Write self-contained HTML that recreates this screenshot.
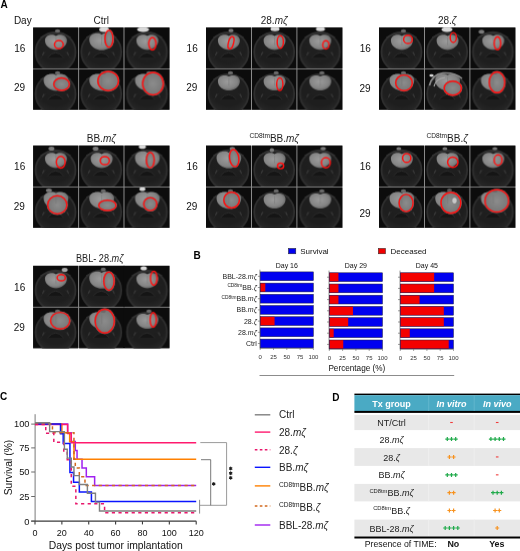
<!DOCTYPE html><html><head><meta charset="utf-8"><style>
html,body{margin:0;padding:0;background:#fff;width:520px;height:551px;overflow:hidden;}
svg text{font-family:"Liberation Sans", sans-serif;}
svg{will-change:transform;}
</style></head><body>
<svg width="520" height="551" viewBox="0 0 520 551" style="display:block">
<defs>
<radialGradient id="hd" cx="50%" cy="35%" r="62%"><stop offset="0" stop-color="#202020"/><stop offset="0.7" stop-color="#1e1e1e"/><stop offset="1" stop-color="#272727"/></radialGradient>
<radialGradient id="brA" cx="45%" cy="42%" r="62%"><stop offset="0" stop-color="#9c9c9c"/><stop offset="0.7" stop-color="#848484"/><stop offset="1" stop-color="#5e5e5e"/></radialGradient>
<radialGradient id="tm" cx="50%" cy="50%" r="55%"><stop offset="0" stop-color="#8c8c8c"/><stop offset="1" stop-color="#747474"/></radialGradient>
</defs>
<text x="0.6" y="7.8" font-size="10" font-weight="bold" fill="#000">A</text>
<text x="13.9" y="24.3" font-size="10" fill="#111">Day</text>
<rect x="33.1" y="27.5" width="136.4" height="82.4" fill="#8a8a8a"/><svg x="33.1" y="27.5" width="45" height="41" overflow="hidden"><rect width="45" height="41" fill="#0c0c0c"/><circle cx="22.5" cy="24.6" r="20" fill="url(#hd)" stroke="#2e2e2e" stroke-width="1.8"/><path d="M7.5 10 Q22.5 1.5 37.5 10" fill="none" stroke="#333" stroke-width="1.4"/><path d="M14.5 30 Q22.5 20.5 30.5 30" fill="#151515" stroke="#2c2c2c" stroke-width="1"/><path d="M12.5 24 l-5 7 M32.5 24 l5 7" stroke="#262626" stroke-width="1"/><path d="M11 24.5 l-1.6 3.2 M34 24.5 l1.6 3.2" stroke="#3a3a3a" stroke-width="1.1"/><path d="M11.9 13.04 C11.9 7.19 19.6 6.18 22.9 8.52 C26.2 6.18 33.9 7.19 33.9 13.04 C33.9 18.89 27.85 22.4 22.9 22.4 C17.95 22.4 11.9 18.89 11.9 13.04Z" fill="url(#brA)"/><line x1="22.9" y1="9.92" x2="22.9" y2="17.72" stroke="#767676" stroke-width="0.5"/><ellipse cx="24.5" cy="3.4" rx="2.6" ry="1.6" fill="#6a6a6a"/><ellipse cx="25.8" cy="17.1" rx="4.4" ry="4.1" fill="none" stroke="#ff1010" stroke-width="1.45"/></svg><svg x="79.1" y="27.5" width="44.4" height="41" overflow="hidden"><rect width="44.4" height="41" fill="#0c0c0c"/><circle cx="22.2" cy="24.6" r="20" fill="url(#hd)" stroke="#2e2e2e" stroke-width="1.8"/><path d="M7.2 10 Q22.2 1.5 37.2 10" fill="none" stroke="#333" stroke-width="1.4"/><path d="M14.2 30 Q22.2 20.5 30.2 30" fill="#151515" stroke="#2c2c2c" stroke-width="1"/><path d="M12.2 24 l-5 7 M32.2 24 l5 7" stroke="#262626" stroke-width="1"/><path d="M10.7 24.5 l-1.6 3.2 M33.7 24.5 l1.6 3.2" stroke="#3a3a3a" stroke-width="1.1"/><path d="M10.2 12.24 C10.2 5.64 18.88 4.5 22.6 7.14 C26.32 4.5 35 5.64 35 12.24 C35 18.84 28.18 22.8 22.6 22.8 C17.02 22.8 10.2 18.84 10.2 12.24Z" fill="url(#brA)"/><ellipse cx="29.9" cy="11.3" rx="5" ry="9.5" fill="url(#tm)"/><line x1="22.6" y1="8.72" x2="22.6" y2="17.52" stroke="#767676" stroke-width="0.5"/><ellipse cx="25" cy="2" rx="5" ry="2.4" fill="#d8d8d8"/><ellipse cx="29.9" cy="11.3" rx="4" ry="8.5" fill="none" stroke="#ff1010" stroke-width="1.45"/></svg><svg x="124.5" y="27.5" width="45" height="41" overflow="hidden"><rect width="45" height="41" fill="#0c0c0c"/><circle cx="22.5" cy="24.6" r="20" fill="url(#hd)" stroke="#2e2e2e" stroke-width="1.8"/><path d="M7.5 10 Q22.5 1.5 37.5 10" fill="none" stroke="#333" stroke-width="1.4"/><path d="M14.5 30 Q22.5 20.5 30.5 30" fill="#151515" stroke="#2c2c2c" stroke-width="1"/><path d="M12.5 24 l-5 7 M32.5 24 l5 7" stroke="#262626" stroke-width="1"/><path d="M11 24.5 l-1.6 3.2 M34 24.5 l1.6 3.2" stroke="#3a3a3a" stroke-width="1.1"/><path d="M11.9 13.04 C11.9 7.19 19.6 6.18 22.9 8.52 C26.2 6.18 33.9 7.19 33.9 13.04 C33.9 18.89 27.85 22.4 22.9 22.4 C17.95 22.4 11.9 18.89 11.9 13.04Z" fill="url(#brA)"/><line x1="22.9" y1="9.92" x2="22.9" y2="17.72" stroke="#767676" stroke-width="0.5"/><ellipse cx="18.6" cy="2" rx="6" ry="2.4" fill="#d8d8d8"/><ellipse cx="27.9" cy="16.3" rx="3.6" ry="6.2" fill="none" stroke="#ff1010" stroke-width="1.45"/></svg><svg x="33.1" y="69.4" width="45" height="40.5" overflow="hidden"><rect width="45" height="40.5" fill="#0c0c0c"/><circle cx="22.5" cy="24.6" r="20" fill="url(#hd)" stroke="#2e2e2e" stroke-width="1.8"/><path d="M7.5 10 Q22.5 1.5 37.5 10" fill="none" stroke="#333" stroke-width="1.4"/><path d="M14.5 30 Q22.5 20.5 30.5 30" fill="#151515" stroke="#2c2c2c" stroke-width="1"/><path d="M12.5 24 l-5 7 M32.5 24 l5 7" stroke="#262626" stroke-width="1"/><path d="M11 24.5 l-1.6 3.2 M34 24.5 l1.6 3.2" stroke="#3a3a3a" stroke-width="1.1"/><path d="M10.5 10.84 C10.5 4.24 19.18 3.1 22.9 5.74 C26.62 3.1 35.3 4.24 35.3 10.84 C35.3 17.44 28.48 21.4 22.9 21.4 C17.32 21.4 10.5 17.44 10.5 10.84Z" fill="url(#brA)"/><ellipse cx="28.5" cy="14.7" rx="8.8" ry="7.2" fill="url(#tm)"/><line x1="22.9" y1="7.32" x2="22.9" y2="16.12" stroke="#767676" stroke-width="0.5"/><ellipse cx="24.5" cy="3.4" rx="2.6" ry="1.6" fill="#6a6a6a"/><ellipse cx="28.5" cy="14.7" rx="7.8" ry="6.2" fill="none" stroke="#ff1010" stroke-width="1.45"/></svg><svg x="79.1" y="69.4" width="44.4" height="40.5" overflow="hidden"><rect width="44.4" height="40.5" fill="#0c0c0c"/><circle cx="22.2" cy="24.6" r="20" fill="url(#hd)" stroke="#2e2e2e" stroke-width="1.8"/><path d="M7.2 10 Q22.2 1.5 37.2 10" fill="none" stroke="#333" stroke-width="1.4"/><path d="M14.2 30 Q22.2 20.5 30.2 30" fill="#151515" stroke="#2c2c2c" stroke-width="1"/><path d="M12.2 24 l-5 7 M32.2 24 l5 7" stroke="#262626" stroke-width="1"/><path d="M10.7 24.5 l-1.6 3.2 M33.7 24.5 l1.6 3.2" stroke="#3a3a3a" stroke-width="1.1"/><path d="M10.2 10.84 C10.2 4.24 18.88 3.1 22.6 5.74 C26.32 3.1 35 4.24 35 10.84 C35 17.44 28.18 21.4 22.6 21.4 C17.02 21.4 10.2 17.44 10.2 10.84Z" fill="url(#brA)"/><ellipse cx="29.1" cy="11.6" rx="11.3" ry="10.6" fill="url(#tm)"/><line x1="22.6" y1="7.32" x2="22.6" y2="16.12" stroke="#767676" stroke-width="0.5"/><ellipse cx="24.2" cy="3.4" rx="2.6" ry="1.6" fill="#6a6a6a"/><ellipse cx="29.1" cy="11.6" rx="10.3" ry="9.6" fill="none" stroke="#ff1010" stroke-width="1.45"/></svg><svg x="124.5" y="69.4" width="45" height="40.5" overflow="hidden"><rect width="45" height="40.5" fill="#0c0c0c"/><circle cx="22.5" cy="24.6" r="20" fill="url(#hd)" stroke="#2e2e2e" stroke-width="1.8"/><path d="M7.5 10 Q22.5 1.5 37.5 10" fill="none" stroke="#333" stroke-width="1.4"/><path d="M14.5 30 Q22.5 20.5 30.5 30" fill="#151515" stroke="#2c2c2c" stroke-width="1"/><path d="M12.5 24 l-5 7 M32.5 24 l5 7" stroke="#262626" stroke-width="1"/><path d="M11 24.5 l-1.6 3.2 M34 24.5 l1.6 3.2" stroke="#3a3a3a" stroke-width="1.1"/><path d="M10.5 10.84 C10.5 4.24 19.18 3.1 22.9 5.74 C26.62 3.1 35.3 4.24 35.3 10.84 C35.3 17.44 28.48 21.4 22.9 21.4 C17.32 21.4 10.5 17.44 10.5 10.84Z" fill="url(#brA)"/><ellipse cx="28.5" cy="14.2" rx="11.3" ry="12.2" fill="url(#tm)"/><line x1="22.9" y1="7.32" x2="22.9" y2="16.12" stroke="#767676" stroke-width="0.5"/><ellipse cx="24.5" cy="3.4" rx="2.6" ry="1.6" fill="#6a6a6a"/><ellipse cx="28.5" cy="14.2" rx="10.3" ry="11.2" fill="none" stroke="#ff1010" stroke-width="1.45"/></svg>
<text x="101.3" y="23.6" font-size="10" text-anchor="middle" fill="#222" ><tspan>Ctrl</tspan></text>
<text x="14.3" y="51.8" font-size="10" fill="#111">16</text>
<text x="13.9" y="91.4" font-size="10" fill="#111">29</text>
<rect x="206" y="27.5" width="136.4" height="82.4" fill="#8a8a8a"/><svg x="206" y="27.5" width="45" height="41" overflow="hidden"><rect width="45" height="41" fill="#0c0c0c"/><circle cx="22.5" cy="24.6" r="20" fill="url(#hd)" stroke="#2e2e2e" stroke-width="1.8"/><path d="M7.5 10 Q22.5 1.5 37.5 10" fill="none" stroke="#333" stroke-width="1.4"/><path d="M14.5 30 Q22.5 20.5 30.5 30" fill="#151515" stroke="#2c2c2c" stroke-width="1"/><path d="M12.5 24 l-5 7 M32.5 24 l5 7" stroke="#262626" stroke-width="1"/><path d="M11 24.5 l-1.6 3.2 M34 24.5 l1.6 3.2" stroke="#3a3a3a" stroke-width="1.1"/><path d="M11.9 13.04 C11.9 7.19 19.6 6.18 22.9 8.52 C26.2 6.18 33.9 7.19 33.9 13.04 C33.9 18.89 27.85 22.4 22.9 22.4 C17.95 22.4 11.9 18.89 11.9 13.04Z" fill="url(#brA)"/><line x1="22.9" y1="9.92" x2="22.9" y2="17.72" stroke="#767676" stroke-width="0.5"/><ellipse cx="25" cy="3" rx="2.6" ry="1.8" fill="#7a7a7a"/><ellipse cx="25" cy="15.3" rx="2.6" ry="6.2" fill="none" stroke="#ff1010" stroke-width="1.45" transform="rotate(15 25 15.3)"/></svg><svg x="252" y="27.5" width="44.4" height="41" overflow="hidden"><rect width="44.4" height="41" fill="#0c0c0c"/><circle cx="22.2" cy="24.6" r="20" fill="url(#hd)" stroke="#2e2e2e" stroke-width="1.8"/><path d="M7.2 10 Q22.2 1.5 37.2 10" fill="none" stroke="#333" stroke-width="1.4"/><path d="M14.2 30 Q22.2 20.5 30.2 30" fill="#151515" stroke="#2c2c2c" stroke-width="1"/><path d="M12.2 24 l-5 7 M32.2 24 l5 7" stroke="#262626" stroke-width="1"/><path d="M10.7 24.5 l-1.6 3.2 M33.7 24.5 l1.6 3.2" stroke="#3a3a3a" stroke-width="1.1"/><path d="M11.6 13.04 C11.6 7.19 19.3 6.18 22.6 8.52 C25.9 6.18 33.6 7.19 33.6 13.04 C33.6 18.89 27.55 22.4 22.6 22.4 C17.65 22.4 11.6 18.89 11.6 13.04Z" fill="url(#brA)"/><line x1="22.6" y1="9.92" x2="22.6" y2="17.72" stroke="#767676" stroke-width="0.5"/><ellipse cx="23" cy="1.6" rx="4.5" ry="2.2" fill="#d8d8d8"/><ellipse cx="28.3" cy="14.5" rx="3.1" ry="6.2" fill="none" stroke="#ff1010" stroke-width="1.45"/></svg><svg x="297.4" y="27.5" width="45" height="41" overflow="hidden"><rect width="45" height="41" fill="#0c0c0c"/><circle cx="22.5" cy="24.6" r="20" fill="url(#hd)" stroke="#2e2e2e" stroke-width="1.8"/><path d="M7.5 10 Q22.5 1.5 37.5 10" fill="none" stroke="#333" stroke-width="1.4"/><path d="M14.5 30 Q22.5 20.5 30.5 30" fill="#151515" stroke="#2c2c2c" stroke-width="1"/><path d="M12.5 24 l-5 7 M32.5 24 l5 7" stroke="#262626" stroke-width="1"/><path d="M11 24.5 l-1.6 3.2 M34 24.5 l1.6 3.2" stroke="#3a3a3a" stroke-width="1.1"/><path d="M11.9 13.04 C11.9 7.19 19.6 6.18 22.9 8.52 C26.2 6.18 33.9 7.19 33.9 13.04 C33.9 18.89 27.85 22.4 22.9 22.4 C17.95 22.4 11.9 18.89 11.9 13.04Z" fill="url(#brA)"/><line x1="22.9" y1="9.92" x2="22.9" y2="17.72" stroke="#767676" stroke-width="0.5"/><ellipse cx="23.1" cy="1.6" rx="4.5" ry="2.2" fill="#d8d8d8"/><ellipse cx="28.5" cy="17.4" rx="3.1" ry="4.1" fill="none" stroke="#ff1010" stroke-width="1.45"/></svg><svg x="206" y="69.4" width="45" height="40.5" overflow="hidden"><rect width="45" height="40.5" fill="#0c0c0c"/><circle cx="22.5" cy="24.6" r="20" fill="url(#hd)" stroke="#2e2e2e" stroke-width="1.8"/><path d="M7.5 10 Q22.5 1.5 37.5 10" fill="none" stroke="#333" stroke-width="1.4"/><path d="M14.5 30 Q22.5 20.5 30.5 30" fill="#151515" stroke="#2c2c2c" stroke-width="1"/><path d="M12.5 24 l-5 7 M32.5 24 l5 7" stroke="#262626" stroke-width="1"/><path d="M11 24.5 l-1.6 3.2 M34 24.5 l1.6 3.2" stroke="#3a3a3a" stroke-width="1.1"/><path d="M11.9 11.64 C11.9 5.79 19.6 4.78 22.9 7.12 C26.2 4.78 33.9 5.79 33.9 11.64 C33.9 17.49 27.85 21 22.9 21 C17.95 21 11.9 17.49 11.9 11.64Z" fill="url(#brA)"/><line x1="22.9" y1="8.52" x2="22.9" y2="16.32" stroke="#767676" stroke-width="0.5"/><ellipse cx="24.5" cy="3.4" rx="2.6" ry="1.6" fill="#6a6a6a"/></svg><svg x="252" y="69.4" width="44.4" height="40.5" overflow="hidden"><rect width="44.4" height="40.5" fill="#0c0c0c"/><circle cx="22.2" cy="24.6" r="20" fill="url(#hd)" stroke="#2e2e2e" stroke-width="1.8"/><path d="M7.2 10 Q22.2 1.5 37.2 10" fill="none" stroke="#333" stroke-width="1.4"/><path d="M14.2 30 Q22.2 20.5 30.2 30" fill="#151515" stroke="#2c2c2c" stroke-width="1"/><path d="M12.2 24 l-5 7 M32.2 24 l5 7" stroke="#262626" stroke-width="1"/><path d="M10.7 24.5 l-1.6 3.2 M33.7 24.5 l1.6 3.2" stroke="#3a3a3a" stroke-width="1.1"/><path d="M11.6 11.64 C11.6 5.79 19.3 4.78 22.6 7.12 C25.9 4.78 33.6 5.79 33.6 11.64 C33.6 17.49 27.55 21 22.6 21 C17.65 21 11.6 17.49 11.6 11.64Z" fill="url(#brA)"/><line x1="22.6" y1="8.52" x2="22.6" y2="16.32" stroke="#767676" stroke-width="0.5"/><ellipse cx="24.2" cy="3.4" rx="2.6" ry="1.6" fill="#6a6a6a"/><ellipse cx="27.8" cy="14.7" rx="3.1" ry="6.2" fill="none" stroke="#ff1010" stroke-width="1.45"/></svg><svg x="297.4" y="69.4" width="45" height="40.5" overflow="hidden"><rect width="45" height="40.5" fill="#0c0c0c"/><circle cx="22.5" cy="24.6" r="20" fill="url(#hd)" stroke="#2e2e2e" stroke-width="1.8"/><path d="M7.5 10 Q22.5 1.5 37.5 10" fill="none" stroke="#333" stroke-width="1.4"/><path d="M14.5 30 Q22.5 20.5 30.5 30" fill="#151515" stroke="#2c2c2c" stroke-width="1"/><path d="M12.5 24 l-5 7 M32.5 24 l5 7" stroke="#262626" stroke-width="1"/><path d="M11 24.5 l-1.6 3.2 M34 24.5 l1.6 3.2" stroke="#3a3a3a" stroke-width="1.1"/><path d="M11.9 11.64 C11.9 5.79 19.6 4.78 22.9 7.12 C26.2 4.78 33.9 5.79 33.9 11.64 C33.9 17.49 27.85 21 22.9 21 C17.95 21 11.9 17.49 11.9 11.64Z" fill="url(#brA)"/><line x1="22.9" y1="8.52" x2="22.9" y2="16.32" stroke="#767676" stroke-width="0.5"/><ellipse cx="24.5" cy="3.4" rx="2.6" ry="1.6" fill="#6a6a6a"/></svg>
<text x="274.2" y="23.6" font-size="10" text-anchor="middle" fill="#222" ><tspan>28.</tspan><tspan font-style="italic">mζ</tspan></text>
<text x="186.6" y="51.8" font-size="10" fill="#111">16</text>
<text x="186.2" y="91.2" font-size="10" fill="#111">29</text>
<rect x="379" y="27.5" width="136.4" height="82.4" fill="#8a8a8a"/><svg x="379" y="27.5" width="45" height="41" overflow="hidden"><rect width="45" height="41" fill="#0c0c0c"/><circle cx="22.5" cy="24.6" r="20" fill="url(#hd)" stroke="#2e2e2e" stroke-width="1.8"/><path d="M7.5 10 Q22.5 1.5 37.5 10" fill="none" stroke="#333" stroke-width="1.4"/><path d="M14.5 30 Q22.5 20.5 30.5 30" fill="#151515" stroke="#2c2c2c" stroke-width="1"/><path d="M12.5 24 l-5 7 M32.5 24 l5 7" stroke="#262626" stroke-width="1"/><path d="M11 24.5 l-1.6 3.2 M34 24.5 l1.6 3.2" stroke="#3a3a3a" stroke-width="1.1"/><path d="M11.9 13.04 C11.9 7.19 19.6 6.18 22.9 8.52 C26.2 6.18 33.9 7.19 33.9 13.04 C33.9 18.89 27.85 22.4 22.9 22.4 C17.95 22.4 11.9 18.89 11.9 13.04Z" fill="url(#brA)"/><line x1="22.9" y1="9.92" x2="22.9" y2="17.72" stroke="#767676" stroke-width="0.5"/><ellipse cx="24.5" cy="3.4" rx="2.6" ry="1.6" fill="#6a6a6a"/><ellipse cx="29" cy="11.9" rx="4.4" ry="4.1" fill="none" stroke="#ff1010" stroke-width="1.45"/></svg><svg x="425" y="27.5" width="44.4" height="41" overflow="hidden"><rect width="44.4" height="41" fill="#0c0c0c"/><circle cx="22.2" cy="24.6" r="20" fill="url(#hd)" stroke="#2e2e2e" stroke-width="1.8"/><path d="M7.2 10 Q22.2 1.5 37.2 10" fill="none" stroke="#333" stroke-width="1.4"/><path d="M14.2 30 Q22.2 20.5 30.2 30" fill="#151515" stroke="#2c2c2c" stroke-width="1"/><path d="M12.2 24 l-5 7 M32.2 24 l5 7" stroke="#262626" stroke-width="1"/><path d="M10.7 24.5 l-1.6 3.2 M33.7 24.5 l1.6 3.2" stroke="#3a3a3a" stroke-width="1.1"/><path d="M11.6 13.04 C11.6 7.19 19.3 6.18 22.6 8.52 C25.9 6.18 33.6 7.19 33.6 13.04 C33.6 18.89 27.55 22.4 22.6 22.4 C17.65 22.4 11.6 18.89 11.6 13.04Z" fill="url(#brA)"/><line x1="22.6" y1="9.92" x2="22.6" y2="17.72" stroke="#767676" stroke-width="0.5"/><ellipse cx="22" cy="2" rx="5.5" ry="2.4" fill="#d8d8d8"/><ellipse cx="28.3" cy="10" rx="3.1" ry="4.9" fill="none" stroke="#ff1010" stroke-width="1.45"/></svg><svg x="470.4" y="27.5" width="45" height="41" overflow="hidden"><rect width="45" height="41" fill="#0c0c0c"/><circle cx="22.5" cy="24.6" r="20" fill="url(#hd)" stroke="#2e2e2e" stroke-width="1.8"/><path d="M7.5 10 Q22.5 1.5 37.5 10" fill="none" stroke="#333" stroke-width="1.4"/><path d="M14.5 30 Q22.5 20.5 30.5 30" fill="#151515" stroke="#2c2c2c" stroke-width="1"/><path d="M12.5 24 l-5 7 M32.5 24 l5 7" stroke="#262626" stroke-width="1"/><path d="M11 24.5 l-1.6 3.2 M34 24.5 l1.6 3.2" stroke="#3a3a3a" stroke-width="1.1"/><path d="M11.9 13.04 C11.9 7.19 19.6 6.18 22.9 8.52 C26.2 6.18 33.9 7.19 33.9 13.04 C33.9 18.89 27.85 22.4 22.9 22.4 C17.95 22.4 11.9 18.89 11.9 13.04Z" fill="url(#brA)"/><line x1="22.9" y1="9.92" x2="22.9" y2="17.72" stroke="#767676" stroke-width="0.5"/><ellipse cx="11.1" cy="4.2" rx="2.8" ry="2" fill="#7a7a7a"/><ellipse cx="27.1" cy="15.8" rx="3.3" ry="6.5" fill="none" stroke="#ff1010" stroke-width="1.45"/></svg><svg x="379" y="69.4" width="45" height="40.5" overflow="hidden"><rect width="45" height="40.5" fill="#0c0c0c"/><circle cx="22.5" cy="24.6" r="20" fill="url(#hd)" stroke="#2e2e2e" stroke-width="1.8"/><path d="M7.5 10 Q22.5 1.5 37.5 10" fill="none" stroke="#333" stroke-width="1.4"/><path d="M14.5 30 Q22.5 20.5 30.5 30" fill="#151515" stroke="#2c2c2c" stroke-width="1"/><path d="M12.5 24 l-5 7 M32.5 24 l5 7" stroke="#262626" stroke-width="1"/><path d="M11 24.5 l-1.6 3.2 M34 24.5 l1.6 3.2" stroke="#3a3a3a" stroke-width="1.1"/><path d="M10.5 10.84 C10.5 4.24 19.18 3.1 22.9 5.74 C26.62 3.1 35.3 4.24 35.3 10.84 C35.3 17.44 28.48 21.4 22.9 21.4 C17.32 21.4 10.5 17.44 10.5 10.84Z" fill="url(#brA)"/><ellipse cx="25" cy="13.4" rx="9.3" ry="8.8" fill="url(#tm)"/><line x1="22.9" y1="7.32" x2="22.9" y2="16.12" stroke="#767676" stroke-width="0.5"/><ellipse cx="24.5" cy="3.4" rx="2.6" ry="1.6" fill="#6a6a6a"/><ellipse cx="25" cy="13.4" rx="8.3" ry="7.8" fill="none" stroke="#ff1010" stroke-width="1.45"/></svg><svg x="425" y="69.4" width="44.4" height="40.5" overflow="hidden"><rect width="44.4" height="40.5" fill="#0c0c0c"/><circle cx="22.2" cy="24.6" r="20" fill="url(#hd)" stroke="#2e2e2e" stroke-width="1.8"/><path d="M7.2 10 Q22.2 1.5 37.2 10" fill="none" stroke="#333" stroke-width="1.4"/><path d="M14.2 30 Q22.2 20.5 30.2 30" fill="#151515" stroke="#2c2c2c" stroke-width="1"/><path d="M12.2 24 l-5 7 M32.2 24 l5 7" stroke="#262626" stroke-width="1"/><path d="M10.7 24.5 l-1.6 3.2 M33.7 24.5 l1.6 3.2" stroke="#3a3a3a" stroke-width="1.1"/><path d="M10.2 10.84 C10.2 4.24 18.88 3.1 22.6 5.74 C26.32 3.1 35 4.24 35 10.84 C35 17.44 28.18 21.4 22.6 21.4 C17.02 21.4 10.2 17.44 10.2 10.84Z" fill="url(#brA)"/><ellipse cx="27.8" cy="18.7" rx="9.6" ry="8" fill="url(#tm)"/><line x1="22.6" y1="7.32" x2="22.6" y2="16.12" stroke="#767676" stroke-width="0.5"/><ellipse cx="6.5" cy="6.1" rx="2.2" ry="1.4" fill="#d8d8d8"/><path d="M4.5 16 Q7 5 18 3.6 Q30 2.8 37 9" fill="none" stroke="#8a8a8a" stroke-width="1.6"/><path d="M9 17 Q11 9 20 8" fill="none" stroke="#aaa" stroke-width="1.2"/><ellipse cx="27.8" cy="18.7" rx="8.6" ry="7" fill="none" stroke="#ff1010" stroke-width="1.45"/></svg><svg x="470.4" y="69.4" width="45" height="40.5" overflow="hidden"><rect width="45" height="40.5" fill="#0c0c0c"/><circle cx="22.5" cy="24.6" r="20" fill="url(#hd)" stroke="#2e2e2e" stroke-width="1.8"/><path d="M7.5 10 Q22.5 1.5 37.5 10" fill="none" stroke="#333" stroke-width="1.4"/><path d="M14.5 30 Q22.5 20.5 30.5 30" fill="#151515" stroke="#2c2c2c" stroke-width="1"/><path d="M12.5 24 l-5 7 M32.5 24 l5 7" stroke="#262626" stroke-width="1"/><path d="M11 24.5 l-1.6 3.2 M34 24.5 l1.6 3.2" stroke="#3a3a3a" stroke-width="1.1"/><path d="M10.5 10.84 C10.5 4.24 19.18 3.1 22.9 5.74 C26.62 3.1 35.3 4.24 35.3 10.84 C35.3 17.44 28.48 21.4 22.9 21.4 C17.32 21.4 10.5 17.44 10.5 10.84Z" fill="url(#brA)"/><ellipse cx="26.6" cy="12.9" rx="8.8" ry="11.4" fill="url(#tm)"/><line x1="22.9" y1="7.32" x2="22.9" y2="16.12" stroke="#767676" stroke-width="0.5"/><ellipse cx="24.5" cy="3.4" rx="2.6" ry="1.6" fill="#6a6a6a"/><ellipse cx="26.6" cy="12.9" rx="7.8" ry="10.4" fill="none" stroke="#ff1010" stroke-width="1.45"/></svg>
<text x="447.2" y="23.6" font-size="10" text-anchor="middle" fill="#222" ><tspan>28.</tspan><tspan font-style="italic">ζ</tspan></text>
<text x="359.8" y="51.8" font-size="10" fill="#111">16</text>
<text x="359.4" y="91.8" font-size="10" fill="#111">29</text>
<rect x="33.1" y="145.6" width="136.4" height="82.4" fill="#8a8a8a"/><svg x="33.1" y="145.6" width="45" height="41" overflow="hidden"><rect width="45" height="41" fill="#0c0c0c"/><circle cx="22.5" cy="24.6" r="20" fill="url(#hd)" stroke="#2e2e2e" stroke-width="1.8"/><path d="M7.5 10 Q22.5 1.5 37.5 10" fill="none" stroke="#333" stroke-width="1.4"/><path d="M14.5 30 Q22.5 20.5 30.5 30" fill="#151515" stroke="#2c2c2c" stroke-width="1"/><path d="M12.5 24 l-5 7 M32.5 24 l5 7" stroke="#262626" stroke-width="1"/><path d="M11 24.5 l-1.6 3.2 M34 24.5 l1.6 3.2" stroke="#3a3a3a" stroke-width="1.1"/><path d="M11.9 13.04 C11.9 7.19 19.6 6.18 22.9 8.52 C26.2 6.18 33.9 7.19 33.9 13.04 C33.9 18.89 27.85 22.4 22.9 22.4 C17.95 22.4 11.9 18.89 11.9 13.04Z" fill="url(#brA)"/><line x1="22.9" y1="9.92" x2="22.9" y2="17.72" stroke="#767676" stroke-width="0.5"/><ellipse cx="18.4" cy="3" rx="3" ry="2" fill="#7a7a7a"/><ellipse cx="27.7" cy="16.6" rx="4.4" ry="5.9" fill="none" stroke="#ff1010" stroke-width="1.45"/></svg><svg x="79.1" y="145.6" width="44.4" height="41" overflow="hidden"><rect width="44.4" height="41" fill="#0c0c0c"/><circle cx="22.2" cy="24.6" r="20" fill="url(#hd)" stroke="#2e2e2e" stroke-width="1.8"/><path d="M7.2 10 Q22.2 1.5 37.2 10" fill="none" stroke="#333" stroke-width="1.4"/><path d="M14.2 30 Q22.2 20.5 30.2 30" fill="#151515" stroke="#2c2c2c" stroke-width="1"/><path d="M12.2 24 l-5 7 M32.2 24 l5 7" stroke="#262626" stroke-width="1"/><path d="M10.7 24.5 l-1.6 3.2 M33.7 24.5 l1.6 3.2" stroke="#3a3a3a" stroke-width="1.1"/><path d="M11.6 13.04 C11.6 7.19 19.3 6.18 22.6 8.52 C25.9 6.18 33.6 7.19 33.6 13.04 C33.6 18.89 27.55 22.4 22.6 22.4 C17.65 22.4 11.6 18.89 11.6 13.04Z" fill="url(#brA)"/><line x1="22.6" y1="9.92" x2="22.6" y2="17.72" stroke="#767676" stroke-width="0.5"/><ellipse cx="16.5" cy="3" rx="3" ry="2" fill="#7a7a7a"/><ellipse cx="25.7" cy="15" rx="4.6" ry="4.1" fill="none" stroke="#ff1010" stroke-width="1.45"/></svg><svg x="124.5" y="145.6" width="45" height="41" overflow="hidden"><rect width="45" height="41" fill="#0c0c0c"/><circle cx="22.5" cy="24.6" r="20" fill="url(#hd)" stroke="#2e2e2e" stroke-width="1.8"/><path d="M7.5 10 Q22.5 1.5 37.5 10" fill="none" stroke="#333" stroke-width="1.4"/><path d="M14.5 30 Q22.5 20.5 30.5 30" fill="#151515" stroke="#2c2c2c" stroke-width="1"/><path d="M12.5 24 l-5 7 M32.5 24 l5 7" stroke="#262626" stroke-width="1"/><path d="M11 24.5 l-1.6 3.2 M34 24.5 l1.6 3.2" stroke="#3a3a3a" stroke-width="1.1"/><path d="M10.5 12.24 C10.5 5.64 19.18 4.5 22.9 7.14 C26.62 4.5 35.3 5.64 35.3 12.24 C35.3 18.84 28.48 22.8 22.9 22.8 C17.32 22.8 10.5 18.84 10.5 12.24Z" fill="url(#brA)"/><ellipse cx="25.8" cy="14.5" rx="4.9" ry="8.8" fill="url(#tm)"/><line x1="22.9" y1="8.72" x2="22.9" y2="17.52" stroke="#767676" stroke-width="0.5"/><ellipse cx="17.9" cy="1.2" rx="3.5" ry="2" fill="#d8d8d8"/><ellipse cx="25.8" cy="14.5" rx="3.9" ry="7.8" fill="none" stroke="#ff1010" stroke-width="1.45"/></svg><svg x="33.1" y="187.5" width="45" height="40.5" overflow="hidden"><rect width="45" height="40.5" fill="#0c0c0c"/><circle cx="22.5" cy="24.6" r="20" fill="url(#hd)" stroke="#2e2e2e" stroke-width="1.8"/><path d="M7.5 10 Q22.5 1.5 37.5 10" fill="none" stroke="#333" stroke-width="1.4"/><path d="M14.5 30 Q22.5 20.5 30.5 30" fill="#151515" stroke="#2c2c2c" stroke-width="1"/><path d="M12.5 24 l-5 7 M32.5 24 l5 7" stroke="#262626" stroke-width="1"/><path d="M11 24.5 l-1.6 3.2 M34 24.5 l1.6 3.2" stroke="#3a3a3a" stroke-width="1.1"/><path d="M10.5 10.84 C10.5 4.24 19.18 3.1 22.9 5.74 C26.62 3.1 35.3 4.24 35.3 10.84 C35.3 17.44 28.48 21.4 22.9 21.4 C17.32 21.4 10.5 17.44 10.5 10.84Z" fill="url(#brA)"/><ellipse cx="24.2" cy="17.4" rx="10.6" ry="10.1" fill="url(#tm)"/><line x1="22.9" y1="7.32" x2="22.9" y2="16.12" stroke="#767676" stroke-width="0.5"/><ellipse cx="15.8" cy="2.9" rx="3" ry="1.8" fill="#7a7a7a"/><ellipse cx="24.2" cy="17.4" rx="9.6" ry="9.1" fill="none" stroke="#ff1010" stroke-width="1.45"/></svg><svg x="79.1" y="187.5" width="44.4" height="40.5" overflow="hidden"><rect width="44.4" height="40.5" fill="#0c0c0c"/><circle cx="22.2" cy="24.6" r="20" fill="url(#hd)" stroke="#2e2e2e" stroke-width="1.8"/><path d="M7.2 10 Q22.2 1.5 37.2 10" fill="none" stroke="#333" stroke-width="1.4"/><path d="M14.2 30 Q22.2 20.5 30.2 30" fill="#151515" stroke="#2c2c2c" stroke-width="1"/><path d="M12.2 24 l-5 7 M32.2 24 l5 7" stroke="#262626" stroke-width="1"/><path d="M10.7 24.5 l-1.6 3.2 M33.7 24.5 l1.6 3.2" stroke="#3a3a3a" stroke-width="1.1"/><path d="M10.2 10.84 C10.2 4.24 18.88 3.1 22.6 5.74 C26.32 3.1 35 4.24 35 10.84 C35 17.44 28.18 21.4 22.6 21.4 C17.02 21.4 10.2 17.44 10.2 10.84Z" fill="url(#brA)"/><ellipse cx="28.3" cy="17.9" rx="9.6" ry="6.2" fill="url(#tm)"/><line x1="22.6" y1="7.32" x2="22.6" y2="16.12" stroke="#767676" stroke-width="0.5"/><ellipse cx="24.2" cy="3.4" rx="2.6" ry="1.6" fill="#6a6a6a"/><ellipse cx="28.3" cy="17.9" rx="8.6" ry="5.2" fill="none" stroke="#ff1010" stroke-width="1.45"/></svg><svg x="124.5" y="187.5" width="45" height="40.5" overflow="hidden"><rect width="45" height="40.5" fill="#0c0c0c"/><circle cx="22.5" cy="24.6" r="20" fill="url(#hd)" stroke="#2e2e2e" stroke-width="1.8"/><path d="M7.5 10 Q22.5 1.5 37.5 10" fill="none" stroke="#333" stroke-width="1.4"/><path d="M14.5 30 Q22.5 20.5 30.5 30" fill="#151515" stroke="#2c2c2c" stroke-width="1"/><path d="M12.5 24 l-5 7 M32.5 24 l5 7" stroke="#262626" stroke-width="1"/><path d="M11 24.5 l-1.6 3.2 M34 24.5 l1.6 3.2" stroke="#3a3a3a" stroke-width="1.1"/><path d="M10.5 10.84 C10.5 4.24 19.18 3.1 22.9 5.74 C26.62 3.1 35.3 4.24 35.3 10.84 C35.3 17.44 28.48 21.4 22.9 21.4 C17.32 21.4 10.5 17.44 10.5 10.84Z" fill="url(#brA)"/><ellipse cx="25.8" cy="16.6" rx="7.5" ry="7.5" fill="url(#tm)"/><line x1="22.9" y1="7.32" x2="22.9" y2="16.12" stroke="#767676" stroke-width="0.5"/><ellipse cx="17.9" cy="1.6" rx="3" ry="2" fill="#d8d8d8"/><ellipse cx="25.8" cy="16.6" rx="6.5" ry="6.5" fill="none" stroke="#ff1010" stroke-width="1.45"/></svg>
<text x="101.3" y="141.5" font-size="10" text-anchor="middle" fill="#222" ><tspan>BB.</tspan><tspan font-style="italic">mζ</tspan></text>
<text x="14.1" y="170.3" font-size="10" fill="#111">16</text>
<text x="13.7" y="210.4" font-size="10" fill="#111">29</text>
<rect x="206" y="145.6" width="136.4" height="82.4" fill="#8a8a8a"/><svg x="206" y="145.6" width="45" height="41" overflow="hidden"><rect width="45" height="41" fill="#0c0c0c"/><circle cx="22.5" cy="24.6" r="20" fill="url(#hd)" stroke="#2e2e2e" stroke-width="1.8"/><path d="M7.5 10 Q22.5 1.5 37.5 10" fill="none" stroke="#333" stroke-width="1.4"/><path d="M14.5 30 Q22.5 20.5 30.5 30" fill="#151515" stroke="#2c2c2c" stroke-width="1"/><path d="M12.5 24 l-5 7 M32.5 24 l5 7" stroke="#262626" stroke-width="1"/><path d="M11 24.5 l-1.6 3.2 M34 24.5 l1.6 3.2" stroke="#3a3a3a" stroke-width="1.1"/><path d="M10.5 12.24 C10.5 5.64 19.18 4.5 22.9 7.14 C26.62 4.5 35.3 5.64 35.3 12.24 C35.3 18.84 28.48 22.8 22.9 22.8 C17.32 22.8 10.5 18.84 10.5 12.24Z" fill="url(#brA)"/><ellipse cx="28.2" cy="12.6" rx="5.6" ry="9.6" fill="url(#tm)" transform="rotate(-8 28.2 12.6)"/><line x1="22.9" y1="8.72" x2="22.9" y2="17.52" stroke="#767676" stroke-width="0.5"/><ellipse cx="26.3" cy="3" rx="2.8" ry="1.8" fill="#7a7a7a"/><ellipse cx="28.2" cy="12.6" rx="4.6" ry="8.6" fill="none" stroke="#ff1010" stroke-width="1.45" transform="rotate(-8 28.2 12.6)"/></svg><svg x="252" y="145.6" width="44.4" height="41" overflow="hidden"><rect width="44.4" height="41" fill="#0c0c0c"/><circle cx="22.2" cy="24.6" r="20" fill="url(#hd)" stroke="#2e2e2e" stroke-width="1.8"/><path d="M7.2 10 Q22.2 1.5 37.2 10" fill="none" stroke="#333" stroke-width="1.4"/><path d="M14.2 30 Q22.2 20.5 30.2 30" fill="#151515" stroke="#2c2c2c" stroke-width="1"/><path d="M12.2 24 l-5 7 M32.2 24 l5 7" stroke="#262626" stroke-width="1"/><path d="M10.7 24.5 l-1.6 3.2 M33.7 24.5 l1.6 3.2" stroke="#3a3a3a" stroke-width="1.1"/><path d="M11.6 13.04 C11.6 7.19 19.3 6.18 22.6 8.52 C25.9 6.18 33.6 7.19 33.6 13.04 C33.6 18.89 27.55 22.4 22.6 22.4 C17.65 22.4 11.6 18.89 11.6 13.04Z" fill="url(#brA)"/><line x1="22.6" y1="9.92" x2="22.6" y2="17.72" stroke="#767676" stroke-width="0.5"/><ellipse cx="19.9" cy="4.5" rx="2.2" ry="2" fill="#7a7a7a"/><ellipse cx="28.6" cy="20.3" rx="3.1" ry="2.8" fill="none" stroke="#ff1010" stroke-width="1.45"/></svg><svg x="297.4" y="145.6" width="45" height="41" overflow="hidden"><rect width="45" height="41" fill="#0c0c0c"/><circle cx="22.5" cy="24.6" r="20" fill="url(#hd)" stroke="#2e2e2e" stroke-width="1.8"/><path d="M7.5 10 Q22.5 1.5 37.5 10" fill="none" stroke="#333" stroke-width="1.4"/><path d="M14.5 30 Q22.5 20.5 30.5 30" fill="#151515" stroke="#2c2c2c" stroke-width="1"/><path d="M12.5 24 l-5 7 M32.5 24 l5 7" stroke="#262626" stroke-width="1"/><path d="M11 24.5 l-1.6 3.2 M34 24.5 l1.6 3.2" stroke="#3a3a3a" stroke-width="1.1"/><path d="M11.9 13.04 C11.9 7.19 19.6 6.18 22.9 8.52 C26.2 6.18 33.9 7.19 33.9 13.04 C33.9 18.89 27.85 22.4 22.9 22.4 C17.95 22.4 11.9 18.89 11.9 13.04Z" fill="url(#brA)"/><line x1="22.9" y1="9.92" x2="22.9" y2="17.72" stroke="#767676" stroke-width="0.5"/><ellipse cx="25.8" cy="3" rx="2.8" ry="1.8" fill="#7a7a7a"/><ellipse cx="28.5" cy="17.1" rx="4.4" ry="5.2" fill="none" stroke="#ff1010" stroke-width="1.45"/></svg><svg x="206" y="187.5" width="45" height="40.5" overflow="hidden"><rect width="45" height="40.5" fill="#0c0c0c"/><circle cx="22.5" cy="24.6" r="20" fill="url(#hd)" stroke="#2e2e2e" stroke-width="1.8"/><path d="M7.5 10 Q22.5 1.5 37.5 10" fill="none" stroke="#333" stroke-width="1.4"/><path d="M14.5 30 Q22.5 20.5 30.5 30" fill="#151515" stroke="#2c2c2c" stroke-width="1"/><path d="M12.5 24 l-5 7 M32.5 24 l5 7" stroke="#262626" stroke-width="1"/><path d="M11 24.5 l-1.6 3.2 M34 24.5 l1.6 3.2" stroke="#3a3a3a" stroke-width="1.1"/><path d="M10.5 10.84 C10.5 4.24 19.18 3.1 22.9 5.74 C26.62 3.1 35.3 4.24 35.3 10.84 C35.3 17.44 28.48 21.4 22.9 21.4 C17.32 21.4 10.5 17.44 10.5 10.84Z" fill="url(#brA)"/><ellipse cx="25.6" cy="12.6" rx="8.8" ry="8.8" fill="url(#tm)"/><line x1="22.9" y1="7.32" x2="22.9" y2="16.12" stroke="#767676" stroke-width="0.5"/><ellipse cx="24.5" cy="3.4" rx="2.6" ry="1.6" fill="#6a6a6a"/><ellipse cx="25.6" cy="12.6" rx="7.8" ry="7.8" fill="none" stroke="#ff1010" stroke-width="1.45"/></svg><svg x="252" y="187.5" width="44.4" height="40.5" overflow="hidden"><rect width="44.4" height="40.5" fill="#0c0c0c"/><circle cx="22.2" cy="24.6" r="20" fill="url(#hd)" stroke="#2e2e2e" stroke-width="1.8"/><path d="M7.2 10 Q22.2 1.5 37.2 10" fill="none" stroke="#333" stroke-width="1.4"/><path d="M14.2 30 Q22.2 20.5 30.2 30" fill="#151515" stroke="#2c2c2c" stroke-width="1"/><path d="M12.2 24 l-5 7 M32.2 24 l5 7" stroke="#262626" stroke-width="1"/><path d="M10.7 24.5 l-1.6 3.2 M33.7 24.5 l1.6 3.2" stroke="#3a3a3a" stroke-width="1.1"/><path d="M11.6 11.64 C11.6 5.79 19.3 4.78 22.6 7.12 C25.9 4.78 33.6 5.79 33.6 11.64 C33.6 17.49 27.55 21 22.6 21 C17.65 21 11.6 17.49 11.6 11.64Z" fill="url(#brA)"/><line x1="22.6" y1="8.52" x2="22.6" y2="16.32" stroke="#767676" stroke-width="0.5"/><ellipse cx="24.2" cy="3.4" rx="2.6" ry="1.6" fill="#6a6a6a"/></svg><svg x="297.4" y="187.5" width="45" height="40.5" overflow="hidden"><rect width="45" height="40.5" fill="#0c0c0c"/><circle cx="22.5" cy="24.6" r="20" fill="url(#hd)" stroke="#2e2e2e" stroke-width="1.8"/><path d="M7.5 10 Q22.5 1.5 37.5 10" fill="none" stroke="#333" stroke-width="1.4"/><path d="M14.5 30 Q22.5 20.5 30.5 30" fill="#151515" stroke="#2c2c2c" stroke-width="1"/><path d="M12.5 24 l-5 7 M32.5 24 l5 7" stroke="#262626" stroke-width="1"/><path d="M11 24.5 l-1.6 3.2 M34 24.5 l1.6 3.2" stroke="#3a3a3a" stroke-width="1.1"/><path d="M11.9 11.64 C11.9 5.79 19.6 4.78 22.9 7.12 C26.2 4.78 33.9 5.79 33.9 11.64 C33.9 17.49 27.85 21 22.9 21 C17.95 21 11.9 17.49 11.9 11.64Z" fill="url(#brA)"/><line x1="22.9" y1="8.52" x2="22.9" y2="16.32" stroke="#767676" stroke-width="0.5"/><ellipse cx="24.5" cy="3.4" rx="2.6" ry="1.6" fill="#6a6a6a"/></svg>
<text x="274.2" y="141.5" font-size="10" text-anchor="middle" fill="#222" ><tspan font-size="6.6" dy="-3.6">CD8tm</tspan><tspan dy="3.6">BB.</tspan><tspan font-style="italic">mζ</tspan></text>
<text x="186.6" y="170.3" font-size="10" fill="#111">16</text>
<text x="186.2" y="210.4" font-size="10" fill="#111">29</text>
<rect x="379" y="145.6" width="136.4" height="82.4" fill="#8a8a8a"/><svg x="379" y="145.6" width="45" height="41" overflow="hidden"><rect width="45" height="41" fill="#0c0c0c"/><circle cx="22.5" cy="24.6" r="20" fill="url(#hd)" stroke="#2e2e2e" stroke-width="1.8"/><path d="M7.5 10 Q22.5 1.5 37.5 10" fill="none" stroke="#333" stroke-width="1.4"/><path d="M14.5 30 Q22.5 20.5 30.5 30" fill="#151515" stroke="#2c2c2c" stroke-width="1"/><path d="M12.5 24 l-5 7 M32.5 24 l5 7" stroke="#262626" stroke-width="1"/><path d="M11 24.5 l-1.6 3.2 M34 24.5 l1.6 3.2" stroke="#3a3a3a" stroke-width="1.1"/><path d="M11.9 13.04 C11.9 7.19 19.6 6.18 22.9 8.52 C26.2 6.18 33.9 7.19 33.9 13.04 C33.9 18.89 27.85 22.4 22.9 22.4 C17.95 22.4 11.9 18.89 11.9 13.04Z" fill="url(#brA)"/><line x1="22.9" y1="9.92" x2="22.9" y2="17.72" stroke="#767676" stroke-width="0.5"/><ellipse cx="19.8" cy="3" rx="2.5" ry="1.6" fill="#7a7a7a"/><ellipse cx="27.7" cy="12.4" rx="4.1" ry="4.4" fill="none" stroke="#ff1010" stroke-width="1.45"/></svg><svg x="425" y="145.6" width="44.4" height="41" overflow="hidden"><rect width="44.4" height="41" fill="#0c0c0c"/><circle cx="22.2" cy="24.6" r="20" fill="url(#hd)" stroke="#2e2e2e" stroke-width="1.8"/><path d="M7.2 10 Q22.2 1.5 37.2 10" fill="none" stroke="#333" stroke-width="1.4"/><path d="M14.2 30 Q22.2 20.5 30.2 30" fill="#151515" stroke="#2c2c2c" stroke-width="1"/><path d="M12.2 24 l-5 7 M32.2 24 l5 7" stroke="#262626" stroke-width="1"/><path d="M10.7 24.5 l-1.6 3.2 M33.7 24.5 l1.6 3.2" stroke="#3a3a3a" stroke-width="1.1"/><path d="M11.6 13.04 C11.6 7.19 19.3 6.18 22.6 8.52 C25.9 6.18 33.6 7.19 33.6 13.04 C33.6 18.89 27.55 22.4 22.6 22.4 C17.65 22.4 11.6 18.89 11.6 13.04Z" fill="url(#brA)"/><line x1="22.6" y1="9.92" x2="22.6" y2="17.72" stroke="#767676" stroke-width="0.5"/><ellipse cx="19.9" cy="3" rx="2.5" ry="1.6" fill="#7a7a7a"/><ellipse cx="27.8" cy="16.6" rx="5.2" ry="5.2" fill="none" stroke="#ff1010" stroke-width="1.45"/></svg><svg x="470.4" y="145.6" width="45" height="41" overflow="hidden"><rect width="45" height="41" fill="#0c0c0c"/><circle cx="22.5" cy="24.6" r="20" fill="url(#hd)" stroke="#2e2e2e" stroke-width="1.8"/><path d="M7.5 10 Q22.5 1.5 37.5 10" fill="none" stroke="#333" stroke-width="1.4"/><path d="M14.5 30 Q22.5 20.5 30.5 30" fill="#151515" stroke="#2c2c2c" stroke-width="1"/><path d="M12.5 24 l-5 7 M32.5 24 l5 7" stroke="#262626" stroke-width="1"/><path d="M11 24.5 l-1.6 3.2 M34 24.5 l1.6 3.2" stroke="#3a3a3a" stroke-width="1.1"/><path d="M11.9 13.04 C11.9 7.19 19.6 6.18 22.9 8.52 C26.2 6.18 33.9 7.19 33.9 13.04 C33.9 18.89 27.85 22.4 22.9 22.4 C17.95 22.4 11.9 18.89 11.9 13.04Z" fill="url(#brA)"/><line x1="22.9" y1="9.92" x2="22.9" y2="17.72" stroke="#767676" stroke-width="0.5"/><ellipse cx="24.5" cy="3" rx="2.5" ry="1.6" fill="#7a7a7a"/><ellipse cx="27.7" cy="14.5" rx="3.9" ry="5.2" fill="none" stroke="#ff1010" stroke-width="1.45"/></svg><svg x="379" y="187.5" width="45" height="40.5" overflow="hidden"><rect width="45" height="40.5" fill="#0c0c0c"/><circle cx="22.5" cy="24.6" r="20" fill="url(#hd)" stroke="#2e2e2e" stroke-width="1.8"/><path d="M7.5 10 Q22.5 1.5 37.5 10" fill="none" stroke="#333" stroke-width="1.4"/><path d="M14.5 30 Q22.5 20.5 30.5 30" fill="#151515" stroke="#2c2c2c" stroke-width="1"/><path d="M12.5 24 l-5 7 M32.5 24 l5 7" stroke="#262626" stroke-width="1"/><path d="M11 24.5 l-1.6 3.2 M34 24.5 l1.6 3.2" stroke="#3a3a3a" stroke-width="1.1"/><path d="M10.5 10.84 C10.5 4.24 19.18 3.1 22.9 5.74 C26.62 3.1 35.3 4.24 35.3 10.84 C35.3 17.44 28.48 21.4 22.9 21.4 C17.32 21.4 10.5 17.44 10.5 10.84Z" fill="url(#brA)"/><ellipse cx="27.1" cy="15.5" rx="8" ry="9.6" fill="url(#tm)"/><line x1="22.9" y1="7.32" x2="22.9" y2="16.12" stroke="#767676" stroke-width="0.5"/><ellipse cx="24.5" cy="3.4" rx="2.6" ry="1.6" fill="#6a6a6a"/><ellipse cx="27.1" cy="15.5" rx="7" ry="8.6" fill="none" stroke="#ff1010" stroke-width="1.45"/></svg><svg x="425" y="187.5" width="44.4" height="40.5" overflow="hidden"><rect width="44.4" height="40.5" fill="#0c0c0c"/><circle cx="22.2" cy="24.6" r="20" fill="url(#hd)" stroke="#2e2e2e" stroke-width="1.8"/><path d="M7.2 10 Q22.2 1.5 37.2 10" fill="none" stroke="#333" stroke-width="1.4"/><path d="M14.2 30 Q22.2 20.5 30.2 30" fill="#151515" stroke="#2c2c2c" stroke-width="1"/><path d="M12.2 24 l-5 7 M32.2 24 l5 7" stroke="#262626" stroke-width="1"/><path d="M10.7 24.5 l-1.6 3.2 M33.7 24.5 l1.6 3.2" stroke="#3a3a3a" stroke-width="1.1"/><path d="M10.2 10.84 C10.2 4.24 18.88 3.1 22.6 5.74 C26.32 3.1 35 4.24 35 10.84 C35 17.44 28.18 21.4 22.6 21.4 C17.02 21.4 10.2 17.44 10.2 10.84Z" fill="url(#brA)"/><ellipse cx="25.9" cy="15.3" rx="10.9" ry="11.4" fill="url(#tm)"/><line x1="22.6" y1="7.32" x2="22.6" y2="16.12" stroke="#767676" stroke-width="0.5"/><ellipse cx="24.5" cy="2.7" rx="2.5" ry="1.6" fill="#5a5a5a"/><ellipse cx="29.5" cy="13.1" rx="2.2" ry="2.8" fill="#c8c8c8"/><ellipse cx="25.9" cy="15.3" rx="9.9" ry="10.4" fill="none" stroke="#ff1010" stroke-width="1.45"/></svg><svg x="470.4" y="187.5" width="45" height="40.5" overflow="hidden"><rect width="45" height="40.5" fill="#0c0c0c"/><circle cx="22.5" cy="24.6" r="20" fill="url(#hd)" stroke="#2e2e2e" stroke-width="1.8"/><path d="M7.5 10 Q22.5 1.5 37.5 10" fill="none" stroke="#333" stroke-width="1.4"/><path d="M14.5 30 Q22.5 20.5 30.5 30" fill="#151515" stroke="#2c2c2c" stroke-width="1"/><path d="M12.5 24 l-5 7 M32.5 24 l5 7" stroke="#262626" stroke-width="1"/><path d="M11 24.5 l-1.6 3.2 M34 24.5 l1.6 3.2" stroke="#3a3a3a" stroke-width="1.1"/><path d="M10.5 10.84 C10.5 4.24 19.18 3.1 22.9 5.74 C26.62 3.1 35.3 4.24 35.3 10.84 C35.3 17.44 28.48 21.4 22.9 21.4 C17.32 21.4 10.5 17.44 10.5 10.84Z" fill="url(#brA)"/><ellipse cx="26.4" cy="13.4" rx="12.8" ry="12.2" fill="url(#tm)"/><line x1="22.9" y1="7.32" x2="22.9" y2="16.12" stroke="#767676" stroke-width="0.5"/><ellipse cx="24.5" cy="3.4" rx="2.6" ry="1.6" fill="#6a6a6a"/><ellipse cx="26.4" cy="13.4" rx="11.8" ry="11.2" fill="none" stroke="#ff1010" stroke-width="1.45"/></svg>
<text x="447.2" y="141.5" font-size="10" text-anchor="middle" fill="#222" ><tspan font-size="6.6" dy="-3.6">CD8tm</tspan><tspan dy="3.6">BB.</tspan><tspan font-style="italic">ζ</tspan></text>
<text x="359.8" y="170.3" font-size="10" fill="#111">16</text>
<text x="359.4" y="216.5" font-size="10" fill="#111">29</text>
<rect x="33.1" y="265.8" width="136.4" height="82.4" fill="#8a8a8a"/><rect x="123" y="265.8" width="2" height="41" fill="#0c0c0c"/><rect x="123" y="307.7" width="2" height="40.5" fill="#0c0c0c"/><svg x="33.1" y="265.8" width="45" height="41" overflow="hidden"><rect width="45" height="41" fill="#0c0c0c"/><circle cx="22.5" cy="24.6" r="20" fill="url(#hd)" stroke="#2e2e2e" stroke-width="1.8"/><path d="M7.5 10 Q22.5 1.5 37.5 10" fill="none" stroke="#333" stroke-width="1.4"/><path d="M14.5 30 Q22.5 20.5 30.5 30" fill="#151515" stroke="#2c2c2c" stroke-width="1"/><path d="M12.5 24 l-5 7 M32.5 24 l5 7" stroke="#262626" stroke-width="1"/><path d="M11 24.5 l-1.6 3.2 M34 24.5 l1.6 3.2" stroke="#3a3a3a" stroke-width="1.1"/><path d="M11.9 13.04 C11.9 7.19 19.6 6.18 22.9 8.52 C26.2 6.18 33.9 7.19 33.9 13.04 C33.9 18.89 27.85 22.4 22.9 22.4 C17.95 22.4 11.9 18.89 11.9 13.04Z" fill="url(#brA)"/><line x1="22.9" y1="9.92" x2="22.9" y2="17.72" stroke="#767676" stroke-width="0.5"/><ellipse cx="31.6" cy="4" rx="3" ry="2" fill="#a8a8a8"/><ellipse cx="28.2" cy="11.9" rx="4.1" ry="3.1" fill="none" stroke="#ff1010" stroke-width="1.45"/></svg><svg x="79.1" y="265.8" width="44.4" height="41" overflow="hidden"><rect width="44.4" height="41" fill="#0c0c0c"/><circle cx="22.2" cy="24.6" r="20" fill="url(#hd)" stroke="#2e2e2e" stroke-width="1.8"/><path d="M7.2 10 Q22.2 1.5 37.2 10" fill="none" stroke="#333" stroke-width="1.4"/><path d="M14.2 30 Q22.2 20.5 30.2 30" fill="#151515" stroke="#2c2c2c" stroke-width="1"/><path d="M12.2 24 l-5 7 M32.2 24 l5 7" stroke="#262626" stroke-width="1"/><path d="M10.7 24.5 l-1.6 3.2 M33.7 24.5 l1.6 3.2" stroke="#3a3a3a" stroke-width="1.1"/><path d="M10.2 12.24 C10.2 5.64 18.88 4.5 22.6 7.14 C26.32 4.5 35 5.64 35 12.24 C35 18.84 28.18 22.8 22.6 22.8 C17.02 22.8 10.2 18.84 10.2 12.24Z" fill="url(#brA)"/><ellipse cx="29.9" cy="15.3" rx="6.2" ry="10.1" fill="url(#tm)"/><line x1="22.6" y1="8.72" x2="22.6" y2="17.52" stroke="#767676" stroke-width="0.5"/><ellipse cx="24.2" cy="3.4" rx="2.6" ry="1.6" fill="#6a6a6a"/><ellipse cx="29.9" cy="15.3" rx="5.2" ry="9.1" fill="none" stroke="#ff1010" stroke-width="1.45"/></svg><svg x="124.5" y="265.8" width="45" height="41" overflow="hidden"><rect width="45" height="41" fill="#0c0c0c"/><circle cx="22.5" cy="24.6" r="20" fill="url(#hd)" stroke="#2e2e2e" stroke-width="1.8"/><path d="M7.5 10 Q22.5 1.5 37.5 10" fill="none" stroke="#333" stroke-width="1.4"/><path d="M14.5 30 Q22.5 20.5 30.5 30" fill="#151515" stroke="#2c2c2c" stroke-width="1"/><path d="M12.5 24 l-5 7 M32.5 24 l5 7" stroke="#262626" stroke-width="1"/><path d="M11 24.5 l-1.6 3.2 M34 24.5 l1.6 3.2" stroke="#3a3a3a" stroke-width="1.1"/><path d="M11.9 13.04 C11.9 7.19 19.6 6.18 22.9 8.52 C26.2 6.18 33.9 7.19 33.9 13.04 C33.9 18.89 27.85 22.4 22.9 22.4 C17.95 22.4 11.9 18.89 11.9 13.04Z" fill="url(#brA)"/><line x1="22.9" y1="9.92" x2="22.9" y2="17.72" stroke="#767676" stroke-width="0.5"/><ellipse cx="19.2" cy="2.5" rx="3.2" ry="2" fill="#d8d8d8"/><ellipse cx="29.3" cy="12.4" rx="3.3" ry="7" fill="none" stroke="#ff1010" stroke-width="1.45"/></svg><svg x="33.1" y="307.7" width="45" height="40.5" overflow="hidden"><rect width="45" height="40.5" fill="#0c0c0c"/><circle cx="22.5" cy="24.6" r="20" fill="url(#hd)" stroke="#2e2e2e" stroke-width="1.8"/><path d="M7.5 10 Q22.5 1.5 37.5 10" fill="none" stroke="#333" stroke-width="1.4"/><path d="M14.5 30 Q22.5 20.5 30.5 30" fill="#151515" stroke="#2c2c2c" stroke-width="1"/><path d="M12.5 24 l-5 7 M32.5 24 l5 7" stroke="#262626" stroke-width="1"/><path d="M11 24.5 l-1.6 3.2 M34 24.5 l1.6 3.2" stroke="#3a3a3a" stroke-width="1.1"/><path d="M10.5 10.84 C10.5 4.24 19.18 3.1 22.9 5.74 C26.62 3.1 35.3 4.24 35.3 10.84 C35.3 17.44 28.48 21.4 22.9 21.4 C17.32 21.4 10.5 17.44 10.5 10.84Z" fill="url(#brA)"/><ellipse cx="27.1" cy="12.9" rx="10.6" ry="9.3" fill="url(#tm)"/><line x1="22.9" y1="7.32" x2="22.9" y2="16.12" stroke="#767676" stroke-width="0.5"/><ellipse cx="24.5" cy="3.4" rx="2.6" ry="1.6" fill="#6a6a6a"/><ellipse cx="27.1" cy="12.9" rx="9.6" ry="8.3" fill="none" stroke="#ff1010" stroke-width="1.45"/></svg><svg x="79.1" y="307.7" width="44.4" height="40.5" overflow="hidden"><rect width="44.4" height="40.5" fill="#0c0c0c"/><circle cx="22.2" cy="24.6" r="20" fill="url(#hd)" stroke="#2e2e2e" stroke-width="1.8"/><path d="M7.2 10 Q22.2 1.5 37.2 10" fill="none" stroke="#333" stroke-width="1.4"/><path d="M14.2 30 Q22.2 20.5 30.2 30" fill="#151515" stroke="#2c2c2c" stroke-width="1"/><path d="M12.2 24 l-5 7 M32.2 24 l5 7" stroke="#262626" stroke-width="1"/><path d="M10.7 24.5 l-1.6 3.2 M33.7 24.5 l1.6 3.2" stroke="#3a3a3a" stroke-width="1.1"/><path d="M10.2 10.84 C10.2 4.24 18.88 3.1 22.6 5.74 C26.32 3.1 35 4.24 35 10.84 C35 17.44 28.18 21.4 22.6 21.4 C17.02 21.4 10.2 17.44 10.2 10.84Z" fill="url(#brA)"/><ellipse cx="25.7" cy="13.4" rx="10.6" ry="12.8" fill="url(#tm)"/><line x1="22.6" y1="7.32" x2="22.6" y2="16.12" stroke="#767676" stroke-width="0.5"/><ellipse cx="24.2" cy="3.4" rx="2.6" ry="1.6" fill="#6a6a6a"/><ellipse cx="25.7" cy="13.4" rx="9.6" ry="11.8" fill="none" stroke="#ff1010" stroke-width="1.45"/></svg><svg x="124.5" y="307.7" width="45" height="40.5" overflow="hidden"><rect width="45" height="40.5" fill="#0c0c0c"/><circle cx="22.5" cy="24.6" r="20" fill="url(#hd)" stroke="#2e2e2e" stroke-width="1.8"/><path d="M7.5 10 Q22.5 1.5 37.5 10" fill="none" stroke="#333" stroke-width="1.4"/><path d="M14.5 30 Q22.5 20.5 30.5 30" fill="#151515" stroke="#2c2c2c" stroke-width="1"/><path d="M12.5 24 l-5 7 M32.5 24 l5 7" stroke="#262626" stroke-width="1"/><path d="M11 24.5 l-1.6 3.2 M34 24.5 l1.6 3.2" stroke="#3a3a3a" stroke-width="1.1"/><path d="M11.9 11.64 C11.9 5.79 19.6 4.78 22.9 7.12 C26.2 4.78 33.9 5.79 33.9 11.64 C33.9 17.49 27.85 21 22.9 21 C17.95 21 11.9 17.49 11.9 11.64Z" fill="url(#brA)"/><line x1="22.9" y1="8.52" x2="22.9" y2="16.32" stroke="#767676" stroke-width="0.5"/><ellipse cx="24.5" cy="3.4" rx="2.6" ry="1.6" fill="#6a6a6a"/><ellipse cx="28.7" cy="12.1" rx="3.1" ry="7.3" fill="none" stroke="#ff1010" stroke-width="1.45"/></svg>
<text x="99.7" y="262.2" font-size="10" text-anchor="middle" fill="#222" textLength="47.6" lengthAdjust="spacingAndGlyphs"><tspan>BBL- 28.</tspan><tspan font-style="italic">mζ</tspan></text>
<text x="14.1" y="290.7" font-size="10" fill="#111">16</text>
<text x="13.7" y="331.2" font-size="10" fill="#111">29</text>
<text x="193.4" y="258.5" font-size="10" font-weight="bold" fill="#000">B</text>
<rect x="288.4" y="248.4" width="7.4" height="5.4" fill="#0000f0" stroke="#222" stroke-width="0.5"/>
<text x="300.2" y="254" font-size="8" fill="#111">Survival</text>
<rect x="378.3" y="248.4" width="7.2" height="5.4" fill="#f00000" stroke="#222" stroke-width="0.5"/>
<text x="390.5" y="254" font-size="8" fill="#111">Deceased</text>
<text x="286.8" y="267.5" font-size="7" text-anchor="middle" fill="#111">Day 16</text>
<line x1="259.9" y1="269.7" x2="259.9" y2="348.3" stroke="#555" stroke-width="0.6"/>
<line x1="259.9" y1="348.3" x2="313.4" y2="348.3" stroke="#555" stroke-width="0.6"/>
<line x1="260.2" y1="348.3" x2="260.2" y2="349.9" stroke="#555" stroke-width="0.6"/>
<text x="260.2" y="358.5" font-size="6" text-anchor="middle" fill="#333">0</text>
<line x1="273.5" y1="348.3" x2="273.5" y2="349.9" stroke="#555" stroke-width="0.6"/>
<text x="273.5" y="358.5" font-size="6" text-anchor="middle" fill="#333">25</text>
<line x1="286.8" y1="348.3" x2="286.8" y2="349.9" stroke="#555" stroke-width="0.6"/>
<text x="286.8" y="358.5" font-size="6" text-anchor="middle" fill="#333">50</text>
<line x1="300.1" y1="348.3" x2="300.1" y2="349.9" stroke="#555" stroke-width="0.6"/>
<text x="300.1" y="358.5" font-size="6" text-anchor="middle" fill="#333">75</text>
<line x1="313.4" y1="348.3" x2="313.4" y2="349.9" stroke="#555" stroke-width="0.6"/>
<text x="313.4" y="358.5" font-size="6" text-anchor="middle" fill="#333">100</text>
<line x1="257.9" y1="276.3" x2="259.9" y2="276.3" stroke="#555" stroke-width="0.6"/>
<rect x="260.2" y="271.9" width="53.2" height="8.8" fill="#0000f0"/>
<rect x="260.2" y="271.9" width="53.2" height="8.8" fill="none" stroke="#202040" stroke-width="0.5"/>
<text x="256.9" y="278.8" font-size="7" text-anchor="end" fill="#222" ><tspan>BBL-28.</tspan><tspan font-style="italic">mζ</tspan></text>
<line x1="257.9" y1="287.5" x2="259.9" y2="287.5" stroke="#555" stroke-width="0.6"/>
<rect x="260.2" y="283.1" width="53.2" height="8.8" fill="#0000f0"/>
<rect x="260.2" y="283.1" width="5.11" height="8.8" fill="#f40000"/>
<rect x="260.2" y="283.1" width="53.2" height="8.8" fill="none" stroke="#202040" stroke-width="0.5"/>
<text x="256.9" y="290" font-size="7" text-anchor="end" fill="#222" ><tspan font-size="4.8" dy="-2.6">CD8tm</tspan><tspan dy="2.6">BB.</tspan><tspan font-style="italic">ζ</tspan></text>
<line x1="257.9" y1="298.7" x2="259.9" y2="298.7" stroke="#555" stroke-width="0.6"/>
<rect x="260.2" y="294.3" width="53.2" height="8.8" fill="#0000f0"/>
<rect x="260.2" y="294.3" width="53.2" height="8.8" fill="none" stroke="#202040" stroke-width="0.5"/>
<text x="256.9" y="301.2" font-size="7" text-anchor="end" fill="#222" ><tspan font-size="4.8" dy="-2.6">CD8tm</tspan><tspan dy="2.6">BB.</tspan><tspan font-style="italic">mζ</tspan></text>
<line x1="257.9" y1="309.9" x2="259.9" y2="309.9" stroke="#555" stroke-width="0.6"/>
<rect x="260.2" y="305.5" width="53.2" height="8.8" fill="#0000f0"/>
<rect x="260.2" y="305.5" width="53.2" height="8.8" fill="none" stroke="#202040" stroke-width="0.5"/>
<text x="256.9" y="312.4" font-size="7" text-anchor="end" fill="#222" ><tspan>BB.</tspan><tspan font-style="italic">mζ</tspan></text>
<line x1="257.9" y1="321.1" x2="259.9" y2="321.1" stroke="#555" stroke-width="0.6"/>
<rect x="260.2" y="316.7" width="53.2" height="8.8" fill="#0000f0"/>
<rect x="260.2" y="316.7" width="14.36" height="8.8" fill="#f40000"/>
<rect x="260.2" y="316.7" width="53.2" height="8.8" fill="none" stroke="#202040" stroke-width="0.5"/>
<text x="256.9" y="323.6" font-size="7" text-anchor="end" fill="#222" ><tspan>28.</tspan><tspan font-style="italic">ζ</tspan></text>
<line x1="257.9" y1="332.3" x2="259.9" y2="332.3" stroke="#555" stroke-width="0.6"/>
<rect x="260.2" y="327.9" width="53.2" height="8.8" fill="#0000f0"/>
<rect x="260.2" y="327.9" width="53.2" height="8.8" fill="none" stroke="#202040" stroke-width="0.5"/>
<text x="256.9" y="334.8" font-size="7" text-anchor="end" fill="#222" ><tspan>28.</tspan><tspan font-style="italic">mζ</tspan></text>
<line x1="257.9" y1="343.5" x2="259.9" y2="343.5" stroke="#555" stroke-width="0.6"/>
<rect x="260.2" y="339.1" width="53.2" height="8.8" fill="#0000f0"/>
<rect x="260.2" y="339.1" width="53.2" height="8.8" fill="none" stroke="#202040" stroke-width="0.5"/>
<text x="256.9" y="346" font-size="7" text-anchor="end" fill="#222" ><tspan>Ctrl</tspan></text>
<text x="355.9" y="268.4" font-size="7" text-anchor="middle" fill="#111">Day 29</text>
<line x1="329" y1="270.6" x2="329" y2="349.3" stroke="#555" stroke-width="0.6"/>
<line x1="329" y1="349.3" x2="382.5" y2="349.3" stroke="#555" stroke-width="0.6"/>
<line x1="329.3" y1="349.3" x2="329.3" y2="350.9" stroke="#555" stroke-width="0.6"/>
<text x="329.3" y="359.5" font-size="6" text-anchor="middle" fill="#333">0</text>
<line x1="342.6" y1="349.3" x2="342.6" y2="350.9" stroke="#555" stroke-width="0.6"/>
<text x="342.6" y="359.5" font-size="6" text-anchor="middle" fill="#333">25</text>
<line x1="355.9" y1="349.3" x2="355.9" y2="350.9" stroke="#555" stroke-width="0.6"/>
<text x="355.9" y="359.5" font-size="6" text-anchor="middle" fill="#333">50</text>
<line x1="369.2" y1="349.3" x2="369.2" y2="350.9" stroke="#555" stroke-width="0.6"/>
<text x="369.2" y="359.5" font-size="6" text-anchor="middle" fill="#333">75</text>
<line x1="382.5" y1="349.3" x2="382.5" y2="350.9" stroke="#555" stroke-width="0.6"/>
<text x="382.5" y="359.5" font-size="6" text-anchor="middle" fill="#333">100</text>
<line x1="327" y1="277.2" x2="329" y2="277.2" stroke="#555" stroke-width="0.6"/>
<rect x="329.3" y="272.8" width="53.2" height="8.8" fill="#0000f0"/>
<rect x="329.3" y="272.8" width="9.15" height="8.8" fill="#f40000"/>
<rect x="329.3" y="272.8" width="53.2" height="8.8" fill="none" stroke="#202040" stroke-width="0.5"/>
<line x1="327" y1="288.4" x2="329" y2="288.4" stroke="#555" stroke-width="0.6"/>
<rect x="329.3" y="284" width="53.2" height="8.8" fill="#0000f0"/>
<rect x="329.3" y="284" width="9.15" height="8.8" fill="#f40000"/>
<rect x="329.3" y="284" width="53.2" height="8.8" fill="none" stroke="#202040" stroke-width="0.5"/>
<line x1="327" y1="299.6" x2="329" y2="299.6" stroke="#555" stroke-width="0.6"/>
<rect x="329.3" y="295.2" width="53.2" height="8.8" fill="#0000f0"/>
<rect x="329.3" y="295.2" width="9.15" height="8.8" fill="#f40000"/>
<rect x="329.3" y="295.2" width="53.2" height="8.8" fill="none" stroke="#202040" stroke-width="0.5"/>
<line x1="327" y1="310.8" x2="329" y2="310.8" stroke="#555" stroke-width="0.6"/>
<rect x="329.3" y="306.4" width="53.2" height="8.8" fill="#0000f0"/>
<rect x="329.3" y="306.4" width="23.67" height="8.8" fill="#f40000"/>
<rect x="329.3" y="306.4" width="53.2" height="8.8" fill="none" stroke="#202040" stroke-width="0.5"/>
<line x1="327" y1="322" x2="329" y2="322" stroke="#555" stroke-width="0.6"/>
<rect x="329.3" y="317.6" width="53.2" height="8.8" fill="#0000f0"/>
<rect x="329.3" y="317.6" width="18.89" height="8.8" fill="#f40000"/>
<rect x="329.3" y="317.6" width="53.2" height="8.8" fill="none" stroke="#202040" stroke-width="0.5"/>
<line x1="327" y1="333.2" x2="329" y2="333.2" stroke="#555" stroke-width="0.6"/>
<rect x="329.3" y="328.8" width="53.2" height="8.8" fill="#0000f0"/>
<rect x="329.3" y="328.8" width="4.36" height="8.8" fill="#f40000"/>
<rect x="329.3" y="328.8" width="53.2" height="8.8" fill="none" stroke="#202040" stroke-width="0.5"/>
<line x1="327" y1="344.4" x2="329" y2="344.4" stroke="#555" stroke-width="0.6"/>
<rect x="329.3" y="340" width="53.2" height="8.8" fill="#0000f0"/>
<rect x="329.3" y="340" width="13.94" height="8.8" fill="#f40000"/>
<rect x="329.3" y="340" width="53.2" height="8.8" fill="none" stroke="#202040" stroke-width="0.5"/>
<text x="426.9" y="268.4" font-size="7" text-anchor="middle" fill="#111">Day 45</text>
<line x1="400" y1="270.6" x2="400" y2="349.3" stroke="#555" stroke-width="0.6"/>
<line x1="400" y1="349.3" x2="453.5" y2="349.3" stroke="#555" stroke-width="0.6"/>
<line x1="400.3" y1="349.3" x2="400.3" y2="350.9" stroke="#555" stroke-width="0.6"/>
<text x="400.3" y="359.5" font-size="6" text-anchor="middle" fill="#333">0</text>
<line x1="413.6" y1="349.3" x2="413.6" y2="350.9" stroke="#555" stroke-width="0.6"/>
<text x="413.6" y="359.5" font-size="6" text-anchor="middle" fill="#333">25</text>
<line x1="426.9" y1="349.3" x2="426.9" y2="350.9" stroke="#555" stroke-width="0.6"/>
<text x="426.9" y="359.5" font-size="6" text-anchor="middle" fill="#333">50</text>
<line x1="440.2" y1="349.3" x2="440.2" y2="350.9" stroke="#555" stroke-width="0.6"/>
<text x="440.2" y="359.5" font-size="6" text-anchor="middle" fill="#333">75</text>
<line x1="453.5" y1="349.3" x2="453.5" y2="350.9" stroke="#555" stroke-width="0.6"/>
<text x="453.5" y="359.5" font-size="6" text-anchor="middle" fill="#333">100</text>
<line x1="398" y1="277.2" x2="400" y2="277.2" stroke="#555" stroke-width="0.6"/>
<rect x="400.3" y="272.8" width="53.2" height="8.8" fill="#0000f0"/>
<rect x="400.3" y="272.8" width="33.84" height="8.8" fill="#f40000"/>
<rect x="400.3" y="272.8" width="53.2" height="8.8" fill="none" stroke="#202040" stroke-width="0.5"/>
<line x1="398" y1="288.4" x2="400" y2="288.4" stroke="#555" stroke-width="0.6"/>
<rect x="400.3" y="284" width="53.2" height="8.8" fill="#0000f0"/>
<rect x="400.3" y="284" width="33.84" height="8.8" fill="#f40000"/>
<rect x="400.3" y="284" width="53.2" height="8.8" fill="none" stroke="#202040" stroke-width="0.5"/>
<line x1="398" y1="299.6" x2="400" y2="299.6" stroke="#555" stroke-width="0.6"/>
<rect x="400.3" y="295.2" width="53.2" height="8.8" fill="#0000f0"/>
<rect x="400.3" y="295.2" width="19.26" height="8.8" fill="#f40000"/>
<rect x="400.3" y="295.2" width="53.2" height="8.8" fill="none" stroke="#202040" stroke-width="0.5"/>
<line x1="398" y1="310.8" x2="400" y2="310.8" stroke="#555" stroke-width="0.6"/>
<rect x="400.3" y="306.4" width="53.2" height="8.8" fill="#0000f0"/>
<rect x="400.3" y="306.4" width="43.52" height="8.8" fill="#f40000"/>
<rect x="400.3" y="306.4" width="53.2" height="8.8" fill="none" stroke="#202040" stroke-width="0.5"/>
<line x1="398" y1="322" x2="400" y2="322" stroke="#555" stroke-width="0.6"/>
<rect x="400.3" y="317.6" width="53.2" height="8.8" fill="#0000f0"/>
<rect x="400.3" y="317.6" width="43.52" height="8.8" fill="#f40000"/>
<rect x="400.3" y="317.6" width="53.2" height="8.8" fill="none" stroke="#202040" stroke-width="0.5"/>
<line x1="398" y1="333.2" x2="400" y2="333.2" stroke="#555" stroke-width="0.6"/>
<rect x="400.3" y="328.8" width="53.2" height="8.8" fill="#0000f0"/>
<rect x="400.3" y="328.8" width="9.47" height="8.8" fill="#f40000"/>
<rect x="400.3" y="328.8" width="53.2" height="8.8" fill="none" stroke="#202040" stroke-width="0.5"/>
<line x1="398" y1="344.4" x2="400" y2="344.4" stroke="#555" stroke-width="0.6"/>
<rect x="400.3" y="340" width="53.2" height="8.8" fill="#0000f0"/>
<rect x="400.3" y="340" width="48.41" height="8.8" fill="#f40000"/>
<rect x="400.3" y="340" width="53.2" height="8.8" fill="none" stroke="#202040" stroke-width="0.5"/>
<text x="328.4" y="370.8" font-size="8.2" fill="#111">Percentage (%)</text>
<line x1="259.5" y1="375.5" x2="454.2" y2="375.5" stroke="#8c8c8c" stroke-width="1"/>
<text x="0" y="400" font-size="10" font-weight="bold" fill="#000">C</text>
<line x1="35.1" y1="414.2" x2="35.1" y2="521.1" stroke="#7a7a7a" stroke-width="1"/>
<line x1="31.2" y1="521.2" x2="196.3" y2="521.2" stroke="#3a3a3a" stroke-width="1.2"/>
<line x1="31.2" y1="424.1" x2="35" y2="424.1" stroke="#6a6a6a" stroke-width="1"/>
<text x="29.5" y="427.4" font-size="9.3" text-anchor="end" fill="#111">100</text>
<line x1="31.2" y1="447.9" x2="35" y2="447.9" stroke="#6a6a6a" stroke-width="1"/>
<text x="29.5" y="451.2" font-size="9.3" text-anchor="end" fill="#111">75</text>
<line x1="31.2" y1="472" x2="35" y2="472" stroke="#6a6a6a" stroke-width="1"/>
<text x="29.5" y="475.3" font-size="9.3" text-anchor="end" fill="#111">50</text>
<line x1="31.2" y1="496.5" x2="35" y2="496.5" stroke="#6a6a6a" stroke-width="1"/>
<text x="29.5" y="499.8" font-size="9.3" text-anchor="end" fill="#111">25</text>
<line x1="31.2" y1="521.2" x2="35" y2="521.2" stroke="#6a6a6a" stroke-width="1"/>
<text x="29.5" y="524.5" font-size="9.3" text-anchor="end" fill="#111">0</text>
<line x1="35" y1="521.2" x2="35" y2="524.4" stroke="#3a3a3a" stroke-width="1.1"/>
<text x="35" y="535.8" font-size="9" text-anchor="middle" fill="#111">0</text>
<line x1="61.87" y1="521.2" x2="61.87" y2="524.4" stroke="#3a3a3a" stroke-width="1.1"/>
<text x="61.87" y="535.8" font-size="9" text-anchor="middle" fill="#111">20</text>
<line x1="88.73" y1="521.2" x2="88.73" y2="524.4" stroke="#3a3a3a" stroke-width="1.1"/>
<text x="88.73" y="535.8" font-size="9" text-anchor="middle" fill="#111">40</text>
<line x1="115.6" y1="521.2" x2="115.6" y2="524.4" stroke="#3a3a3a" stroke-width="1.1"/>
<text x="115.6" y="535.8" font-size="9" text-anchor="middle" fill="#111">60</text>
<line x1="142.46" y1="521.2" x2="142.46" y2="524.4" stroke="#3a3a3a" stroke-width="1.1"/>
<text x="142.46" y="535.8" font-size="9" text-anchor="middle" fill="#111">80</text>
<line x1="169.33" y1="521.2" x2="169.33" y2="524.4" stroke="#3a3a3a" stroke-width="1.1"/>
<text x="169.33" y="535.8" font-size="9" text-anchor="middle" fill="#111">100</text>
<line x1="196.2" y1="521.2" x2="196.2" y2="524.4" stroke="#3a3a3a" stroke-width="1.1"/>
<text x="196.2" y="535.8" font-size="9" text-anchor="middle" fill="#111">120</text>
<text x="48.7" y="548.6" font-size="10.3" fill="#111" textLength="134" lengthAdjust="spacingAndGlyphs">Days post tumor implantation</text>
<text transform="translate(11.9 467.5) rotate(-90)" font-size="10.3" text-anchor="middle" fill="#111">Survival (%)</text>
<path d="M35 423.9 L67.64 423.9 L67.64 432.73 L71.27 432.73 L71.27 441.55 L75.3 441.55 L75.3 450.38 L77.05 450.38 L77.05 459.21 L82.02 459.21 L82.02 468.03 L86.31 468.03 L86.31 476.76 L94.64 476.76 L94.64 485.59 L196.2 485.59" fill="none" stroke="#a020f0" stroke-width="1.5"/>
<path d="M35 424 L61.87 424 L61.87 432.83 L69.66 432.83 L69.66 441.65 L73.96 441.65 L73.96 459.31 L196.2 459.31" fill="none" stroke="#ff8000" stroke-width="1.5"/>
<path d="M35 424.4 L67.64 424.4 L67.64 433.62 L71.27 433.62 L71.27 442.83 L196.2 442.83" fill="none" stroke="#ff1a6e" stroke-width="1.5"/>
<path d="M35 424 L60.52 424 L60.52 433.7 L63.21 433.7 L63.21 443.4 L69.93 443.4 L69.93 472.5 L73.55 472.5 L73.55 482.2 L79.33 482.2 L79.33 491.9 L91.42 491.9 L91.42 501.6 L196.2 501.6" fill="none" stroke="#0a14ff" stroke-width="1.5"/>
<path d="M35 423.9 L52.46 423.9 L52.46 432.73 L73.96 432.73 L73.96 459.21 L75.3 459.21 L75.3 468.03 L79.33 468.03 L79.33 476.76 L84.97 476.76 L84.97 485.59 L196.2 485.59" fill="none" stroke="#d2691e" stroke-width="1.5" stroke-dasharray="3.2 3.4"/>
<path d="M35 424.5 L45.75 424.5 L45.75 433.33 L53.81 433.33 L53.81 442.15 L63.75 442.15 L63.75 450.98 L67.24 450.98 L67.24 459.81 L71.27 459.81 L71.27 486.19 L75.84 486.19 L75.84 503.85 L104.58 503.85 L104.58 512.67 L196.2 512.67" fill="none" stroke="#e8186c" stroke-width="1.5" stroke-dasharray="3.2 3.4"/>
<path d="M35 422.8 L49.64 422.8 L49.64 431.63 L64.42 431.63 L64.42 449.28 L67.24 449.28 L67.24 458.11 L71.27 458.11 L71.27 466.93 L73.96 466.93 L73.96 475.66 L79.33 475.66 L79.33 484.49 L87.39 484.49 L87.39 493.32 L95.45 493.32 L95.45 502.15 L99.48 502.15 L99.48 510.97 L196.2 510.97" fill="none" stroke="#7f7f7f" stroke-width="1.4"/>
<path d="M200.3 442.6 H226.6 V505.3 H200" fill="none" stroke="#9a9a9a" stroke-width="1"/>
<path d="M201 459.7 H210.7 V505.3" fill="none" stroke="#555" stroke-width="0.8"/>
<line x1="199.6" y1="499.8" x2="199.6" y2="513.6" stroke="#8a8a8a" stroke-width="1"/>
<path d="M213.7 482.55 L213.7 485.25 M212.53 483.22 L214.87 484.57 M212.53 484.57 L214.87 483.22 " stroke="#1a1a1a" stroke-width="1.15" stroke-linecap="round"/>
<path d="M230.7 467.15 L230.7 469.85 M229.53 467.82 L231.87 469.18 M229.53 469.18 L231.87 467.82 " stroke="#1a1a1a" stroke-width="1.15" stroke-linecap="round"/>
<path d="M230.7 471.85 L230.7 474.55 M229.53 472.52 L231.87 473.88 M229.53 473.88 L231.87 472.52 " stroke="#1a1a1a" stroke-width="1.15" stroke-linecap="round"/>
<path d="M230.7 476.45 L230.7 479.15 M229.53 477.12 L231.87 478.48 M229.53 478.48 L231.87 477.12 " stroke="#1a1a1a" stroke-width="1.15" stroke-linecap="round"/>
<line x1="254.8" y1="414.8" x2="270.3" y2="414.8" stroke="#7f7f7f" stroke-width="1.4"/>
<text x="279" y="418.3" font-size="10" text-anchor="start" fill="#222" ><tspan>Ctrl</tspan></text>
<line x1="254.8" y1="432.1" x2="270.3" y2="432.1" stroke="#ff1a6e" stroke-width="1.4"/>
<text x="279" y="436.1" font-size="10" text-anchor="start" fill="#222" ><tspan>28.</tspan><tspan font-style="italic">mζ</tspan></text>
<line x1="254.8" y1="449.7" x2="270.3" y2="449.7" stroke="#e8186c" stroke-width="1.4" stroke-dasharray="2.6 2.4"/>
<text x="279" y="453.9" font-size="10" text-anchor="start" fill="#222" ><tspan>28.</tspan><tspan font-style="italic">ζ</tspan></text>
<line x1="254.8" y1="467.3" x2="270.3" y2="467.3" stroke="#0a14ff" stroke-width="1.4"/>
<text x="279" y="471.2" font-size="10" text-anchor="start" fill="#222" ><tspan>BB.</tspan><tspan font-style="italic">mζ</tspan></text>
<line x1="254.8" y1="485.9" x2="270.3" y2="485.9" stroke="#ff8000" stroke-width="1.4"/>
<text x="279" y="490.8" font-size="10" text-anchor="start" fill="#222" ><tspan font-size="6.6" dy="-3.6">CD8tm</tspan><tspan dy="3.6">BB.</tspan><tspan font-style="italic">mζ</tspan></text>
<line x1="254.8" y1="506" x2="270.3" y2="506" stroke="#d2691e" stroke-width="1.4" stroke-dasharray="2.6 2.4"/>
<text x="279" y="510.7" font-size="10" text-anchor="start" fill="#222" ><tspan font-size="6.6" dy="-3.6">CD8tm</tspan><tspan dy="3.6">BB.</tspan><tspan font-style="italic">ζ</tspan></text>
<line x1="254.8" y1="525" x2="270.3" y2="525" stroke="#a020f0" stroke-width="1.4"/>
<text x="279" y="528.9" font-size="10" text-anchor="start" fill="#222" ><tspan>BBL-28.</tspan><tspan font-style="italic">mζ</tspan></text>
<text x="332.2" y="400.7" font-size="10" font-weight="bold" fill="#000">D</text>
<rect x="354.4" y="393.6" width="165.6" height="1.6" fill="#000"/>
<rect x="354.4" y="395.2" width="165.6" height="15.8" fill="#4aaac4"/>
<rect x="354.4" y="410.9" width="165.6" height="2.0" fill="#000"/>
<line x1="428.7" y1="395.2" x2="428.7" y2="410.9" stroke="#6cbcd2" stroke-width="0.7"/>
<line x1="474.2" y1="395.2" x2="474.2" y2="410.9" stroke="#6cbcd2" stroke-width="0.7"/>
<text x="391.5" y="407.2" font-size="9" font-weight="bold" text-anchor="middle" fill="#fff">Tx group</text>
<text x="451.6" y="407.2" font-size="9" font-weight="bold" font-style="italic" text-anchor="middle" fill="#fff">In vitro</text>
<text x="497.3" y="407.2" font-size="9" font-weight="bold" font-style="italic" text-anchor="middle" fill="#fff">In vivo</text>
<rect x="354.4" y="415" width="165.6" height="15.1" fill="#e8e8e8"/>
<line x1="428.7" y1="415" x2="428.7" y2="430.1" stroke="#f2f2f2" stroke-width="0.7"/>
<line x1="474.2" y1="415" x2="474.2" y2="430.1" stroke="#f2f2f2" stroke-width="0.7"/>
<text x="391.5" y="425.6" font-size="9" text-anchor="middle" fill="#222" ><tspan>NT/Ctrl</tspan></text>
<rect x="450.2" y="421.95" width="2.6" height="1.1" fill="#f03c3c"/>
<rect x="495.9" y="421.95" width="2.6" height="1.1" fill="#f03c3c"/>
<text x="391.5" y="442.9" font-size="9" text-anchor="middle" fill="#222" ><tspan>28.</tspan><tspan font-style="italic">mζ</tspan></text>
<path d="M445.3 439.1 h4 M447.3 437.1 v4" stroke="#1faa4a" stroke-width="1.2"/>
<path d="M449.5 439.1 h4 M451.5 437.1 v4" stroke="#1faa4a" stroke-width="1.2"/>
<path d="M453.7 439.1 h4 M455.7 437.1 v4" stroke="#1faa4a" stroke-width="1.2"/>
<path d="M488.9 439.1 h4 M490.9 437.1 v4" stroke="#1faa4a" stroke-width="1.2"/>
<path d="M493.1 439.1 h4 M495.1 437.1 v4" stroke="#1faa4a" stroke-width="1.2"/>
<path d="M497.3 439.1 h4 M499.3 437.1 v4" stroke="#1faa4a" stroke-width="1.2"/>
<path d="M501.5 439.1 h4 M503.5 437.1 v4" stroke="#1faa4a" stroke-width="1.2"/>
<rect x="354.4" y="448.1" width="165.6" height="17.8" fill="#e8e8e8"/>
<line x1="428.7" y1="448.1" x2="428.7" y2="465.9" stroke="#f2f2f2" stroke-width="0.7"/>
<line x1="474.2" y1="448.1" x2="474.2" y2="465.9" stroke="#f2f2f2" stroke-width="0.7"/>
<text x="391.5" y="461" font-size="9" text-anchor="middle" fill="#222" ><tspan>28.</tspan><tspan font-style="italic">ζ</tspan></text>
<path d="M447.4 457 h4 M449.4 455 v4" stroke="#f7921e" stroke-width="1.2"/>
<path d="M451.6 457 h4 M453.6 455 v4" stroke="#f7921e" stroke-width="1.2"/>
<rect x="495.9" y="456.4" width="2.6" height="1.1" fill="#f03c3c"/>
<text x="391.5" y="478.2" font-size="9" text-anchor="middle" fill="#222" ><tspan>BB.</tspan><tspan font-style="italic">mζ</tspan></text>
<path d="M445.3 474.9 h4 M447.3 472.9 v4" stroke="#1faa4a" stroke-width="1.2"/>
<path d="M449.5 474.9 h4 M451.5 472.9 v4" stroke="#1faa4a" stroke-width="1.2"/>
<path d="M453.7 474.9 h4 M455.7 472.9 v4" stroke="#1faa4a" stroke-width="1.2"/>
<rect x="495.9" y="474.3" width="2.6" height="1.1" fill="#f03c3c"/>
<rect x="354.4" y="483.9" width="165.6" height="17.5" fill="#e8e8e8"/>
<line x1="428.7" y1="483.9" x2="428.7" y2="501.4" stroke="#f2f2f2" stroke-width="0.7"/>
<line x1="474.2" y1="483.9" x2="474.2" y2="501.4" stroke="#f2f2f2" stroke-width="0.7"/>
<text x="391.5" y="496.3" font-size="9" text-anchor="middle" fill="#222" ><tspan font-size="5.8" dy="-3.3">CD8tm</tspan><tspan dy="3.3">BB.</tspan><tspan font-style="italic">mζ</tspan></text>
<path d="M447.4 492.65 h4 M449.4 490.65 v4" stroke="#f7921e" stroke-width="1.2"/>
<path d="M451.6 492.65 h4 M453.6 490.65 v4" stroke="#f7921e" stroke-width="1.2"/>
<path d="M491 492.65 h4 M493 490.65 v4" stroke="#1faa4a" stroke-width="1.2"/>
<path d="M495.2 492.65 h4 M497.2 490.65 v4" stroke="#1faa4a" stroke-width="1.2"/>
<path d="M499.4 492.65 h4 M501.4 490.65 v4" stroke="#1faa4a" stroke-width="1.2"/>
<text x="391.5" y="513.5" font-size="9" text-anchor="middle" fill="#222" ><tspan font-size="5.8" dy="-3.3">CD8tm</tspan><tspan dy="3.3">BB.</tspan><tspan font-style="italic">ζ</tspan></text>
<path d="M447.4 510.5 h4 M449.4 508.5 v4" stroke="#f7921e" stroke-width="1.2"/>
<path d="M451.6 510.5 h4 M453.6 508.5 v4" stroke="#f7921e" stroke-width="1.2"/>
<path d="M493.1 510.5 h4 M495.1 508.5 v4" stroke="#f7921e" stroke-width="1.2"/>
<path d="M497.3 510.5 h4 M499.3 508.5 v4" stroke="#f7921e" stroke-width="1.2"/>
<rect x="354.4" y="519.6" width="165.6" height="16.8" fill="#e8e8e8"/>
<line x1="428.7" y1="519.6" x2="428.7" y2="536.4" stroke="#f2f2f2" stroke-width="0.7"/>
<line x1="474.2" y1="519.6" x2="474.2" y2="536.4" stroke="#f2f2f2" stroke-width="0.7"/>
<text x="391.5" y="531.8" font-size="9" text-anchor="middle" fill="#222" ><tspan>BBL-28.</tspan><tspan font-style="italic">mζ</tspan></text>
<path d="M443.2 528 h4 M445.2 526 v4" stroke="#1faa4a" stroke-width="1.2"/>
<path d="M447.4 528 h4 M449.4 526 v4" stroke="#1faa4a" stroke-width="1.2"/>
<path d="M451.6 528 h4 M453.6 526 v4" stroke="#1faa4a" stroke-width="1.2"/>
<path d="M455.8 528 h4 M457.8 526 v4" stroke="#1faa4a" stroke-width="1.2"/>
<path d="M495.2 528 h4 M497.2 526 v4" stroke="#f7921e" stroke-width="1.2"/>
<rect x="354.4" y="536.5" width="165.6" height="2" fill="#000"/>
<text x="364.8" y="546.9" font-size="8.7" fill="#111">Presence of TIME:</text>
<text x="453.3" y="546.6" font-size="8.9" font-weight="bold" text-anchor="middle" fill="#111">No</text>
<text x="496.8" y="546.6" font-size="8.9" font-weight="bold" text-anchor="middle" fill="#111">Yes</text>
</svg></body></html>
